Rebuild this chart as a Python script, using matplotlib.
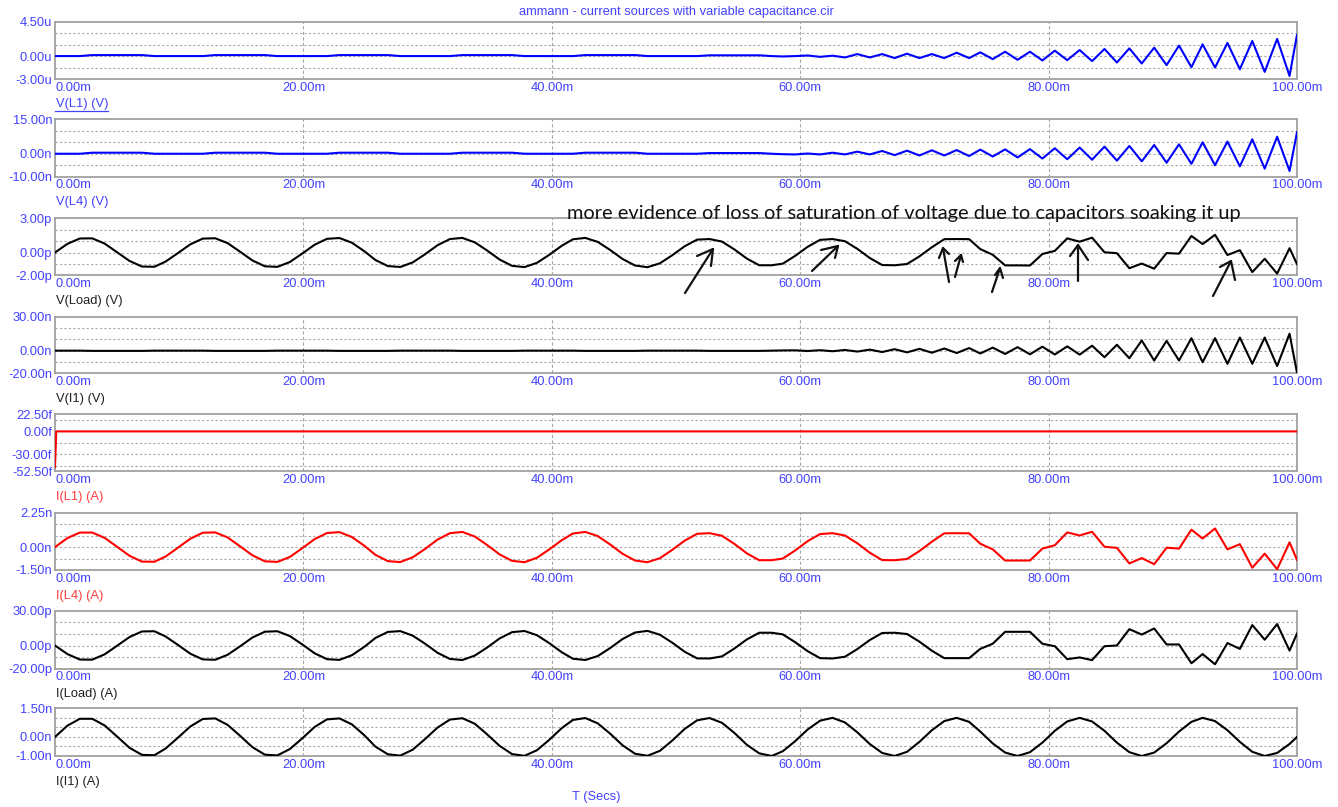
import matplotlib
matplotlib.use("Agg")
import matplotlib.pyplot as plt
from matplotlib.lines import Line2D

# ---------------------------------------------------------------- data
# transient sample times (ms)
t_ms = [0.0, 1.0, 2.0, 3.0, 4.0, 5.0, 6.0, 7.0, 8.0, 8.9,
        9.9, 10.9, 11.9, 12.9, 13.9, 14.9, 15.9, 16.9, 17.9, 18.9,
        19.9, 20.9, 21.9, 22.9, 23.9, 24.9, 25.8, 26.8, 27.8, 28.8,
        29.8, 30.8, 31.8, 32.8, 33.8, 34.8, 35.8, 36.8, 37.8, 38.8,
        39.8, 40.8, 41.7, 42.7, 43.7, 44.7, 45.7, 46.7, 47.7, 48.7,
        49.7, 50.7, 51.7, 52.7, 53.7, 54.7, 55.7, 56.7, 57.7, 58.6,
        59.6, 60.6, 61.6, 62.6, 63.6, 64.6, 65.6, 66.6, 67.6, 68.6,
        69.6, 70.6, 71.6, 72.6, 73.6, 74.5, 75.5, 76.5, 77.5, 78.5,
        79.5, 80.5, 81.5, 82.5, 83.5, 84.5, 85.5, 86.5, 87.5, 88.5,
        89.5, 90.5, 91.5, 92.4, 93.4, 94.4, 95.4, 96.4, 97.4, 98.4,
        99.4, 100.0]

# V(L1) in uV
v_l1 = [0, 0, 0, 0.13, 0.13, 0.13, 0.13, 0.13, 0, 0,
        0, 0, 0, 0.13, 0.13, 0.13, 0.13, 0.13, 0, 0,
        0, 0, 0, 0.13, 0.13, 0.13, 0.13, 0.13, 0, 0,
        0, 0, 0, 0.13, 0.13, 0.13, 0.13, 0.13, 0, 0,
        0, 0, 0, 0.13, 0.13, 0.13, 0.13, 0.13, 0, 0,
        0, 0, 0, 0.1, 0.1, 0.1, 0.1, 0.1, 0, -0.05,
        0, 0.08, -0.1, 0.05, -0.18, 0.26, -0.18, 0.26, -0.26, 0.31,
        -0.26, 0.26, -0.26, 0.44, -0.26, 0.49, -0.40, 0.57, -0.49, 0.57,
        -0.57, 0.71, -0.53, 0.79, -0.66, 0.93, -0.84, 1.01, -0.97, 1.10,
        -1.19, 1.37, -1.46, 1.54, -1.50, 1.72, -1.72, 1.98, -2.07, 2.25,
        -2.60, 2.78]

# V(L4) in nV
v_l4 = [0, 0, 0, 0.45, 0.45, 0.45, 0.45, 0.45, 0, 0,
        0, 0, 0, 0.45, 0.45, 0.45, 0.45, 0.45, 0, 0,
        0, 0, 0, 0.45, 0.45, 0.45, 0.45, 0.45, 0, 0,
        0, 0, 0, 0.45, 0.45, 0.45, 0.45, 0.45, 0, 0,
        0, 0, 0, 0.45, 0.45, 0.45, 0.45, 0.45, 0, 0,
        0, 0, 0, 0.3, 0.3, 0.3, 0.3, 0.3, 0, -0.2,
        -0.3, 0.1, -0.3, 0.45, -0.3, 0.9, -0.3, 1.2, -0.6, 1.34,
        -0.75, 1.5, -0.75, 1.6, -1.0, 1.8, -1.2, 1.9, -1.6, 2.0,
        -2.1, 2.4, -2.4, 2.7, -2.6, 3.1, -3.0, 3.4, -3.3, 3.8,
        -3.9, 4.1, -4.4, 5.0, -5.0, 5.3, -5.5, 6.3, -6.5, 7.4,
        -7.5, 9.4]

# V(Load) in pV
v_load = [0.00, 0.76, 1.23, 1.24, 0.78, 0.02, -0.74, -1.23, -1.25, -0.80,
          -0.05, 0.72, 1.22, 1.25, 0.82, 0.07, -0.70, -1.21, -1.26, -0.84,
          -0.10, 0.68, 1.20, 1.27, 0.86, 0.12, -0.66, -1.19, -1.27, -0.87,
          -0.15, 0.64, 1.18, 1.28, 0.89, 0.17, -0.62, -1.17, -1.28, -0.91,
          -0.20, 0.59, 1.16, 1.28, 0.93, 0.22, -0.57, -1.14, -1.29, -0.95,
          -0.24, 0.55, 1.13, 1.18, 0.96, 0.27, -0.53, -1.12, -1.12, -0.98,
          -0.29, 0.50, 1.11, 1.18, 0.99, 0.32, -0.48, -1.10, -1.12, -1.01,
          -0.34, 0.46, 1.17, 1.18, 1.17, 0.30, -0.20, -1.13, -1.13, -1.14,
          -0.13, 0.14, 1.24, 0.95, 1.30, 0.02, -0.06, -1.38, -0.97, -1.42,
          -0.05, -0.10, 1.45, 0.74, 1.55, -0.22, 0.20, -1.72, -0.55, -1.85,
          0.38, -1.02]

# V(I1) in nV
v_i1 = [0, 0, 0, -0.2, -0.2, -0.2, -0.2, -0.2, 0, 0,
        0, 0, 0, -0.2, -0.2, -0.2, -0.2, -0.2, 0, 0,
        0, 0, 0, -0.2, -0.2, -0.2, -0.2, -0.2, 0, 0,
        0, 0, 0, -0.2, -0.2, -0.2, -0.2, -0.2, 0, 0,
        0, 0, 0, -0.2, -0.2, -0.2, -0.2, -0.2, 0, 0,
        0, 0, 0, -0.2, -0.2, -0.2, -0.2, -0.2, 0, 0.2,
        0.3, -0.3, 0.4, -0.5, 0.6, -0.8, 0.9, -1.2, 1.3, -1.5,
        1.6, -1.8, 1.9, -2.1, 2.3, -2.5, 2.7, -2.9, 3.1, -3.2,
        3.5, -3.4, 3.8, -3.5, 4.4, -5.8, 5.2, -6.7, 9.0, -8.7,
        8.7, -8.7, 11.0, -10.2, 11.0, -11.6, 11.6, -11.6, 11.6, -13.6,
        15.0, -19.5]

# I(L1) in fA (own time points: initial transient then flat)
t_il1 = [0.0, 0.1, 100.0]
i_l1 = [-47.0, 0.0, 0.0]

# I(L4) in nA
i_l4 = [0.00, 0.59, 0.95, 0.95, 0.60, 0.02, -0.57, -0.95, -0.96, -0.62,
        -0.04, 0.55, 0.94, 0.96, 0.63, 0.05, -0.54, -0.93, -0.97, -0.65,
        -0.08, 0.52, 0.92, 0.98, 0.66, 0.09, -0.51, -0.92, -0.98, -0.67,
        -0.12, 0.49, 0.91, 0.99, 0.69, 0.13, -0.48, -0.90, -0.99, -0.70,
        -0.15, 0.45, 0.89, 0.99, 0.72, 0.17, -0.44, -0.88, -0.99, -0.73,
        -0.18, 0.42, 0.87, 0.91, 0.74, 0.21, -0.41, -0.86, -0.86, -0.75,
        -0.22, 0.39, 0.85, 0.91, 0.76, 0.25, -0.37, -0.85, -0.86, -0.78,
        -0.26, 0.35, 0.90, 0.91, 0.90, 0.22, -0.15, -0.88, -0.88, -0.88,
        -0.10, 0.12, 0.96, 0.76, 1.00, 0.02, -0.05, -1.07, -0.72, -1.12,
        -0.04, -0.10, 1.14, 0.56, 1.22, -0.15, 0.19, -1.35, -0.43, -1.45,
        0.31, -0.84]

# I(Load) in pA
i_load = [0.0, -7.4, -12.1, -12.2, -7.6, -0.2, 7.3, 12.1, 12.3, 7.8,
          0.5, -7.1, -12.0, -12.3, -8.0, -0.7, 6.9, 11.9, 12.3, 8.2,
          1.0, -6.7, -11.8, -12.4, -8.4, -1.2, 6.5, 11.7, 12.4, 8.5,
          1.5, -6.3, -11.6, -12.5, -8.7, -1.7, 6.1, 11.5, 12.5, 8.9,
          2.0, -5.8, -11.4, -12.5, -9.1, -2.2, 5.6, 11.2, 12.6, 9.3,
          2.4, -5.4, -11.1, -11.2, -9.4, -2.6, 5.2, 11.0, 11.0, 9.6,
          2.8, -4.9, -10.9, -11.2, -9.7, -3.1, 4.7, 10.8, 11.0, 9.9,
          3.3, -4.5, -10.9, -10.9, -10.9, -2.9, 1.5, 11.8, 11.8, 11.8,
          1.5, -0.6, -11.8, -10.3, -12.6, -0.6, 0.0, 14.1, 9.4, 14.7,
          0.9, 0.9, -15.3, -7.4, -16.2, 2.1, -2.9, 17.6, 5.0, 18.5,
          -4.4, 10.3]

# I(I1) in nA
i_i1 = [0.00, 0.59, 0.95, 0.95, 0.60, 0.02, -0.57, -0.94, -0.96, -0.61,
        -0.04, 0.55, 0.94, 0.97, 0.63, 0.06, -0.54, -0.93, -0.97, -0.64,
        -0.08, 0.52, 0.92, 0.97, 0.66, 0.09, -0.51, -0.91, -0.98, -0.67,
        -0.11, 0.49, 0.91, 0.98, 0.69, 0.13, -0.47, -0.90, -0.99, -0.70,
        -0.15, 0.46, 0.89, 0.99, 0.71, 0.17, -0.44, -0.88, -0.99, -0.73,
        -0.19, 0.42, 0.87, 0.99, 0.74, 0.21, -0.41, -0.86, -1.00, -0.75,
        -0.22, 0.39, 0.85, 1.00, 0.76, 0.24, -0.37, -0.84, -1.00, -0.78,
        -0.26, 0.35, 0.83, 1.00, 0.79, 0.28, -0.34, -0.82, -1.00, -0.80,
        -0.30, 0.32, 0.81, 1.00, 0.81, 0.32, -0.30, -0.80, -1.00, -0.82,
        -0.33, 0.28, 0.79, 1.00, 0.83, 0.35, -0.26, -0.78, -1.00, -0.84,
        -0.37, 0.00]

x_ticks = [0, 20, 40, 60, 80, 100]
x_tick_labels = ["0.00m", "20.00m", "40.00m", "60.00m", "80.00m", "100.00m"]

title = "ammann - current sources with variable capacitance.cir"
x_title = "T (Secs)"
note = "more evidence of loss of saturation of voltage due to capacitors soaking it up"

# ---------------------------------------------------------------- style
W, H = 1338, 807
BLUE = "#0000FF"
LABEL_BLUE = "#4242FF"
RED = "#FF0000"
LABEL_RED = "#FF3C3C"
BLACK = "#000000"
GRID = "#A8A8A8"
FRAME = "#A0A0A0"
FS = 9.3

plt.rcParams["font.family"] = ["Liberation Sans", "DejaVu Sans"]

fig = plt.figure(figsize=(W / 100, H / 100), dpi=100)
fig.patch.set_facecolor("white")

X_LEFT, X_RIGHT = 55, 1297

# (top px, bottom px, ymin, ymax, grid levels, y tick values, suffix,
#  trace name, name colour, trace colour, t, y, underline)
panels = [
    (21.7, 79.0, -3.0, 4.5, [-1.5, 0, 1.5, 3.0], [-3.0, 0, 4.5], "u",
     "V(L1) (V)", LABEL_BLUE, BLUE, t_ms, v_l1, True),
    (119.3, 176.7, -10.0, 15.0, [-5, 0, 5, 10], [-10.0, 0, 15.0], "n",
     "V(L4) (V)", LABEL_BLUE, BLUE, t_ms, v_l4, False),
    (218.3, 275.3, -2.0, 3.0, [-1, 0, 1, 2], [-2.0, 0, 3.0], "p",
     "V(Load) (V)", "#202020", BLACK, t_ms, v_load, False),
    (316.7, 373.3, -20.0, 30.0, [-10, 0, 10, 20], [-20.0, 0, 30.0], "n",
     "V(I1) (V)", "#202020", BLACK, t_ms, v_i1, False),
    (414.3, 471.3, -52.5, 22.5, [-45, -30, -15, 0, 15], [-52.5, -30.0, 0, 22.5], "f",
     "I(L1) (A)", LABEL_RED, RED, t_il1, i_l1, False),
    (512.7, 570.0, -1.5, 2.25, [-0.75, 0, 0.75, 1.5], [-1.5, 0, 2.25], "n",
     "I(L4) (A)", LABEL_RED, RED, t_ms, i_l4, False),
    (610.7, 668.7, -20.0, 30.0, [-10, 0, 10, 20], [-20.0, 0, 30.0], "p",
     "I(Load) (A)", "#202020", BLACK, t_ms, i_load, False),
    (708.3, 756.0, -1.0, 1.5, [-0.5, 0, 0.5, 1.0], [-1.0, 0, 1.5], "n",
     "I(I1) (A)", "#202020", BLACK, t_ms, i_i1, False),
]


def fx(px):
    return px / W


def fy(py):
    return 1 - py / H


for (top, bot, ymin, ymax, grid_vals, yt, suf, name, name_col, col,
     tx, ty, underline) in panels:
    ax = fig.add_axes([fx(X_LEFT), fy(bot), (X_RIGHT - X_LEFT) / W, (bot - top) / H])
    ax.set_xlim(0, 100)
    ax.set_ylim(ymin, ymax)
    for g in grid_vals:
        ax.axhline(g, color=GRID, lw=0.8, ls=(0, (2.0, 2.0)), zorder=1)
    for g in x_ticks[1:-1]:
        ax.axvline(g, color=GRID, lw=0.8, ls=(0, (3.0, 2.0)), zorder=1)
    ax.plot(tx, ty, color=col, lw=1.5, zorder=3, clip_on=True,
            solid_joinstyle="round")
    for s in ax.spines.values():
        s.set_color(FRAME)
        s.set_linewidth(1.3)
    ax.set_yticks(yt)
    ax.set_yticklabels([f"{v:.2f}{suf}" for v in yt])
    ax.set_xticks(x_ticks)
    ax.set_xticklabels(x_tick_labels)
    ax.tick_params(axis="both", length=0, labelsize=FS, labelcolor=LABEL_BLUE)
    ax.tick_params(axis="y", pad=2)
    ax.tick_params(axis="x", pad=2)
    ax.get_xticklabels()[0].set_horizontalalignment("left")
    fig.text(fx(56), fy(bot + 25.5), name, color=name_col, fontsize=FS,
             ha="left", va="center")
    if underline:
        fig.add_artist(Line2D([fx(55), fx(108)], [fy(bot + 31.5)] * 2,
                              color=name_col, lw=0.9))

fig.text(fx(676), fy(12), title, color=LABEL_BLUE, fontsize=FS,
         ha="center", va="center")
fig.text(fx(596), fy(797), x_title, color=LABEL_BLUE, fontsize=FS,
         ha="center", va="center")

# handwritten remark over the V(Load) trace
note_txt = fig.text(fx(567), fy(214), note, color="#111111", fontsize=13,
                    family=["Lato", "DejaVu Sans"], ha="left", va="center")
fig.canvas.draw()
bb = note_txt.get_window_extent()
note_txt.set_fontsize(13 * 673.0 / bb.width)

# hand-drawn arrow strokes (figure pixels)
strokes = [
    [(685, 293), (713, 249)], [(697, 256), (713, 249), (711, 266)],
    [(812, 271), (838, 246)], [(821, 250), (838, 246), (835, 258)],
    [(949, 282), (943, 248)], [(939, 258), (943, 248), (949, 254)],
    [(955, 277), (961, 255)], [(955, 261), (961, 255), (963, 262)],
    [(992, 292), (1000, 268)], [(995, 275), (1000, 268), (1003, 278)],
    [(1078, 281), (1078, 245)], [(1070, 256), (1078, 245), (1088, 260)],
    [(1213, 296), (1231, 261)], [(1220, 267), (1231, 261), (1235, 280)],
]
for st in strokes:
    xs = [fx(p[0]) for p in st]
    ys = [fy(p[1]) for p in st]
    fig.add_artist(Line2D(xs, ys, color="#111111", lw=1.6,
                          solid_capstyle="round", solid_joinstyle="round"))

fig.savefig("out.png", dpi=100, facecolor="white")
